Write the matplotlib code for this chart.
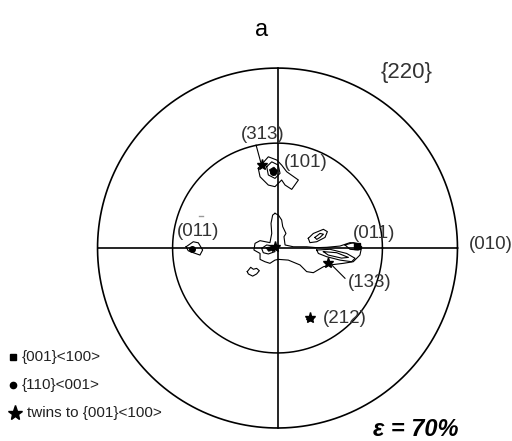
import matplotlib
matplotlib.use("Agg")
import matplotlib.pyplot as plt
import numpy as np

plt.rcParams['font.family'] = ['Liberation Sans', 'DejaVu Sans']

# ---- data (pole-figure coordinates, projection radius = 100) ----
R_OUTER = 100.0
R_INNER = 58.3

# contour outlines of the {220} pole figure
top_outer = [(-10.7, 44.3), (-5.1, 50.7), (-0.4, 48.9), (2.3, 46.1), (5.1, 42.4), (11.6, 37.8),
             (7.9, 32.6), (4.2, 35.0), (2.3, 37.8), (-1.4, 34.1), (-5.1, 35.0), (-9.7, 39.6)]
top_inner = [(-6.0, 45.2), (-3.2, 47.9), (0.4, 46.1), (1.4, 41.5), (-1.4, 38.7), (-5.1, 40.6)]
top_core = [(-4.5, 43.5), (-2.0, 45.0), (0.0, 43.0), (-1.0, 40.5), (-3.5, 41.0)]
left_011 = [(-50.8, 0.7), (-46.8, 3.5), (-44.0, 2.9), (-41.6, -1.1), (-43.1, -3.9),
            (-46.8, -2.6), (-49.6, -1.5)]
center_main = [(-1.4, 19.3), (0.5, 18.3), (2.3, 15.6), (2.9, 11.9), (4.7, 8.1), (3.6, 6.3),
               (4.2, 1.7), (8.8, 0.7), (16.2, 0.7), (21.8, 0.2), (27.3, 0.4), (34.7, 1.1),
               (40.3, 3.0), (44.0, 2.6), (46.8, 0.7), (45.8, -3.9), (42.1, -7.6), (36.6, -8.5),
               (29.2, -9.4), (25.5, -10.4), (19.9, -13.7), (16.2, -13.1), (12.5, -9.4),
               (6.0, -6.7), (0.5, -6.3), (-1.4, -6.7), (-4.2, -8.5), (-7.0, -7.6), (-9.7, -6.3),
               (-9.7, -3.0), (-13.1, -1.1), (-12.5, 2.6), (-9.7, 4.1), (-4.2, 3.0), (-3.2, 8.1),
               (-3.6, 13.7), (-2.7, 18.3)]
center_inner = [(-8.8, -0.2), (-6.0, 1.7), (-2.3, 1.1), (-1.4, -2.0), (-5.1, -3.3), (-7.9, -2.6)]
center_core = [(-6.5, 0.3), (-3.0, 0.8), (-2.2, -1.2), (-5.0, -1.8)]
right_band = [(21.8, -1.1), (29.2, -0.7), (38.4, -3.0), (43.1, -5.7), (41.2, -7.6),
              (34.7, -6.7), (27.3, -4.8), (22.7, -3.0)]
right_band_inner = [(25.5, -2.0), (32.9, -2.6), (39.4, -5.2), (35.6, -5.6), (28.2, -3.9)]
right_end = [(37.5, 1.7), (42.1, 3.0), (45.8, 1.7), (44.9, -1.1), (40.3, -0.7)]
upper_island = [(17.1, 5.4), (19.9, 8.1), (25.5, 10.4), (27.7, 9.1), (26.4, 5.9),
                (21.8, 3.5), (18.0, 3.0)]
upper_island_inner = [(20.8, 5.9), (23.6, 8.1), (25.5, 7.7), (23.6, 5.9), (21.8, 4.8)]
lower_island = [(-16.8, -13.1), (-14.9, -10.7), (-13.4, -11.8), (-11.6, -11.3), (-10.1, -12.6),
                (-11.6, -14.4), (-13.8, -15.6), (-16.2, -14.4)]
blob_212 = [(16.0, -39.5), (18.0, -37.8), (20.5, -38.3), (19.5, -40.5), (17.0, -40.8)]

open_contours = [top_outer, top_inner, left_011, center_main, center_inner, right_band,
                 right_band_inner, right_end, upper_island, upper_island_inner, lower_island]
filled_contours = [top_core, center_core, blob_212]

# ideal orientations
square_x = [44.0]
square_y = [1.1]
dot_x = [-47.5, -2.5]
dot_y = [-0.6, 42.5]
star_x = [-8.8, 28.2, 18.0, -1.4]
star_y = [46.1, -8.1, -39.1, 0.7]

# pole labels
pole_labels = ["(313)", "(101)", "(011)", "(011)", "(010)", "(133)", "(212)"]
pole_lx = [-8.1, 15.8, -44.2, 53.6, 118.6, 51.4, 37.5]
pole_ly = [63.3, 47.8, 9.4, 7.8, 1.7, -19.4, -38.9]

legend_labels = ["{001}<100>", "{110}<001>", "twins to {001}<100>"]

# ---- figure ----
fig = plt.figure(figsize=(5.12, 4.41), dpi=100)
ax = fig.add_axes([0, 0, 1, 1])
ax.set_xlim(-154.2, 130.3)
ax.set_ylim(-107.2, 137.8)
ax.set_aspect('equal')
ax.axis('off')

t = np.linspace(0, 2 * np.pi, 400)
ax.plot(R_OUTER * np.cos(t), R_OUTER * np.sin(t), color='black', lw=1.2)
ax.plot(R_INNER * np.cos(t), R_INNER * np.sin(t), color='black', lw=1.1)
ax.plot([-R_OUTER, R_OUTER], [0, 0], color='black', lw=1.2)
ax.plot([0, 0], [-R_OUTER, R_OUTER], color='black', lw=1.2)

for c in open_contours:
    a = np.array(c + [c[0]])
    ax.plot(a[:, 0], a[:, 1], color='black', lw=0.8)
for c in filled_contours:
    a = np.array(c)
    ax.fill(a[:, 0], a[:, 1], color='black', lw=0.5)

ax.plot(square_x, square_y, 's', color='black', ms=4)
ax.plot(dot_x, dot_y, 'o', color='black', ms=4)
ax.plot(star_x, star_y, '*', color='black', ms=8)

# leader lines
ax.plot([-11.9, -8.6], [57.2, 45.0], color='black', lw=0.8)
ax.plot([30.1, 37.5], [-9.4, -16.8], color='black', lw=0.8)

for s, x, y in zip(pole_labels, pole_lx, pole_ly):
    ax.text(x, y, s, fontsize=13.5, ha='center', va='center', color='#333333')
# overbar on left (011)
ax.plot([-43.6, -41.6], [17.8, 17.8], color='#999999', lw=1)

ax.text(-8.6, 121.1, "a", fontsize=17, ha='center', va='center')
ax.text(71.9, 97.8, "{220}", fontsize=16, ha='center', va='center', color='#333333')

# legend
ax.plot([-146.8], [-60.6], 's', color='black', ms=4)
ax.text(-142.1, -60.6, legend_labels[0], fontsize=11, ha='left', va='center', color='#222222')
ax.plot([-146.8], [-76.1], 'o', color='black', ms=4.5)
ax.text(-142.1, -76.1, legend_labels[1], fontsize=11, ha='left', va='center', color='#222222')
ax.plot([-145.8], [-91.7], '*', color='black', ms=11)
ax.text(-139.3, -91.7, legend_labels[2], fontsize=11, ha='left', va='center', color='#222222')

ax.text(76.9, -101.1, "ε = 70%", fontsize=17, fontweight='bold', fontstyle='italic',
        ha='center', va='center')

fig.savefig("out.png", dpi=100)
